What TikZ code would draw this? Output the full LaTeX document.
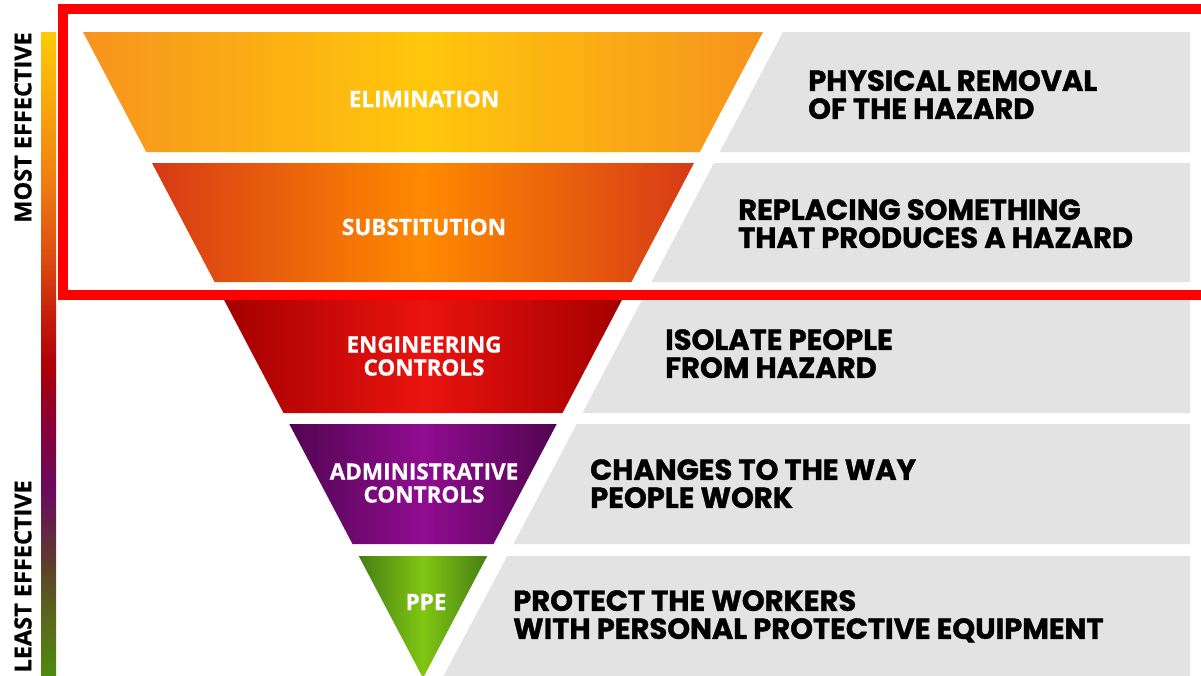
\documentclass[tikz,border=0pt]{standalone}
\usepackage{fontspec}
\setmainfont{Open Sans}
\newfontfamily\descfont{Poppins}[BoldFeatures={FakeBold=1.2}]
\newfontfamily\labfont{Open Sans}[BoldFeatures={FakeBold=0.8}]
\definecolor{elimEdge}{HTML}{F7931E}
\definecolor{elimMid}{HTML}{FFC70B}
\definecolor{subEdge}{HTML}{D63A16}
\definecolor{subMid}{HTML}{FF8A00}
\definecolor{engEdge}{HTML}{A30000}
\definecolor{engMid}{HTML}{EA130F}
\definecolor{admEdge}{HTML}{520552}
\definecolor{admMid}{HTML}{900C90}
\definecolor{ppeEdge}{HTML}{457F14}
\definecolor{ppeMid}{HTML}{80C613}
\definecolor{panelgray}{HTML}{E3E3E3}
\definecolor{frameRed}{HTML}{FF0000}
\definecolor{barA}{HTML}{4E8A10}
\definecolor{barB}{HTML}{5A6A1A}
\definecolor{barC}{HTML}{5E3A2E}
\definecolor{barD}{HTML}{6A0A60}
\definecolor{barE}{HTML}{8A0030}
\definecolor{barF}{HTML}{AA0008}
\definecolor{barG}{HTML}{C41A0A}
\definecolor{barH}{HTML}{DC4A10}
\definecolor{barI}{HTML}{F07E12}
\definecolor{barJ}{HTML}{F9A80C}
\definecolor{barK}{HTML}{FFCB05}
\pgfdeclareverticalshading{effbar}{100bp}{color(0bp)=(barA); color(25bp)=(barA); color(29.28bp)=(barB); color(33.94bp)=(barC); color(39.39bp)=(barD); color(44.83bp)=(barE); color(48.72bp)=(barF); color(52.6bp)=(barG); color(57.27bp)=(barH); color(63.49bp)=(barI); color(69.71bp)=(barJ); color(75bp)=(barK); color(100bp)=(barK)}
\tikzset{
  panel/.style={fill=panelgray},
  lab/.style={text=white, font=\labfont\bfseries\fontsize{22.5}{23}\selectfont, align=center, inner sep=0pt},
  desc/.style={text=black, font=\descfont\bfseries\fontsize{29}{28}\selectfont, align=left, anchor=north west, inner sep=0pt},
  side/.style={text=black, font=\labfont\bfseries\fontsize{23.5}{23}\selectfont, rotate=90, anchor=east, inner sep=0pt},
  frame/.style={draw=frameRed, line width=10pt}
}
\begin{document}
\begin{tikzpicture}[x=1pt,y=-1pt]
\useasboundingbox (0,0) rectangle (1201,675);
\clip (0,0) rectangle (1201,675);
\fill[white] (0,0) rectangle (1201,675);

% effectiveness bar
\shade[shading=effbar] (41,32) rectangle (56,675);
\node[side] (most) at (23,32) {MOST EFFECTIVE};
\node[side] (least) at (23,480) {LEAST EFFECTIVE};

% bands of the inverted triangle
\shade[left color=elimEdge, right color=elimEdge, middle color=elimMid]
  (83,32) -- (763,32) -- (699.8,152) -- (146.2,152) -- cycle;
\shade[left color=subEdge, right color=subEdge, middle color=subMid]
  (152,163) -- (694,163) -- (631.4,282) -- (214.6,282) -- cycle;
\shade[left color=engEdge, right color=engEdge, middle color=engMid]
  (224.1,300) -- (621.9,300) -- (562.5,413) -- (283.5,413) -- cycle;
\shade[left color=admEdge, right color=admEdge, middle color=admMid]
  (289.3,424) -- (556.7,424) -- (493.5,544) -- (352.5,544) -- cycle;
\shade[left color=ppeEdge, right color=ppeEdge, middle color=ppeMid]
  (358.8,556) -- (487.2,556) -- (423,678) -- cycle;

% grey panels
\fill[panel] (783,32) -- (1190,32) -- (1190,152) -- (719.8,152) -- cycle;
\fill[panel] (714,163) -- (1190,163) -- (1190,282) -- (651.4,282) -- cycle;
\fill[panel] (641.9,300) -- (1190,300) -- (1190,413) -- (582.5,413) -- cycle;
\fill[panel] (576.7,424) -- (1190,424) -- (1190,544) -- (513.5,544) -- cycle;
\fill[panel] (507.2,556) -- (1190,556) -- (1190,680) -- (441.4,680) -- cycle;

% band labels
\node[lab] (elim) at (424,99) {ELIMINATION};
\node[lab] (subs) at (424,227) {SUBSTITUTION};
\node[lab] (eng) at (424,356) {ENGINEERING\\CONTROLS};
\node[lab] (adm) at (424,483) {ADMINISTRATIVE\\CONTROLS};
\node[lab] (ppe) at (426,602) {PPE};

% descriptions
\node[desc] (delim) at (808,70) {PHYSICAL REMOVAL\\OF THE HAZARD};
\node[desc] (dsubs) at (738,199) {REPLACING SOMETHING\\THAT PRODUCES A HAZARD};
\node[desc] (deng) at (665,329) {ISOLATE PEOPLE\\FROM HAZARD};
\node[desc] (dadm) at (590,459) {CHANGES TO THE WAY\\PEOPLE WORK};
\node[desc] (dppe) at (513,590) {PROTECT THE WORKERS\\WITH PERSONAL PROTECTIVE EQUIPMENT};

% red highlight frame
\draw[frame] (63,9) rectangle (1215,295);
\end{tikzpicture}
\end{document}
